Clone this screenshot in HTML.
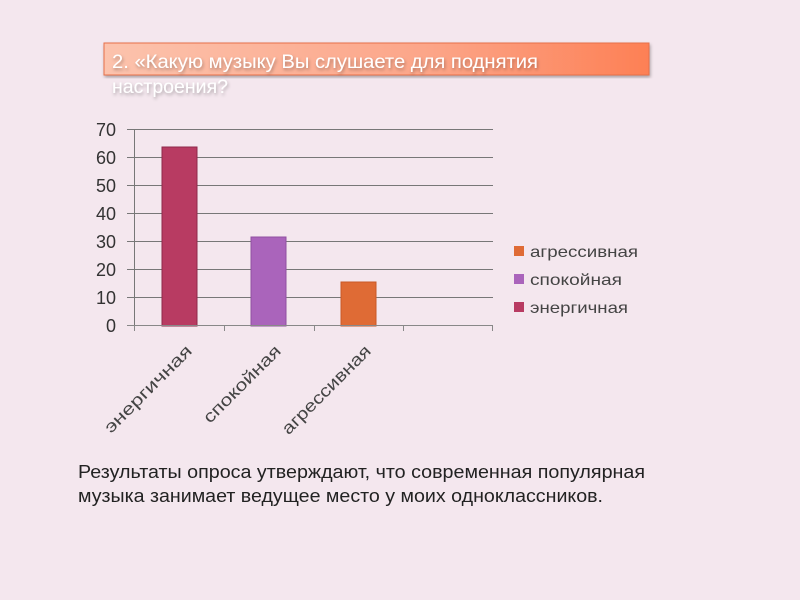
<!DOCTYPE html>
<html><head><meta charset="utf-8"><style>body{margin:0;background:#f4e7ee}svg{display:block}</style></head>
<body>
<svg width="800" height="600" xmlns="http://www.w3.org/2000/svg" font-family="Liberation Sans, sans-serif">
<defs><linearGradient id="g" x1="0" x2="1"><stop offset="0" stop-color="#fcc3ad"/><stop offset="0.6" stop-color="#fca588"/><stop offset="1" stop-color="#fd8055"/></linearGradient>
<filter id="s"><feDropShadow dx="1" dy="2" stdDeviation="1.5" flood-color="#000" flood-opacity="0.3"/></filter></defs>
<rect width="800" height="600" fill="#f4e7ee"/>
<rect x="104" y="43" width="545" height="32" fill="url(#g)" stroke="#e8704a" stroke-width="1" filter="url(#s)"/>
<g fill="#fff" font-size="19" filter="url(#s)">
<text x="112" y="68" textLength="426" lengthAdjust="spacingAndGlyphs">2. «Какую музыку Вы слушаете для поднятия</text>
<text x="112" y="93" textLength="116" lengthAdjust="spacingAndGlyphs">настроения?</text>
</g>
<g stroke="#777" stroke-width="1">
<line x1="127" y1="129.5" x2="493" y2="129.5"/>
<line x1="127" y1="157.5" x2="493" y2="157.5"/>
<line x1="127" y1="185.5" x2="493" y2="185.5"/>
<line x1="127" y1="213.5" x2="493" y2="213.5"/>
<line x1="127" y1="241.5" x2="493" y2="241.5"/>
<line x1="127" y1="269.5" x2="493" y2="269.5"/>
<line x1="127" y1="297.5" x2="493" y2="297.5"/>
<line x1="134.5" y1="129" x2="134.5" y2="326"/>
</g>
<rect x="162" y="147" width="35" height="179" fill="#b83b62" stroke="#8e2a4a"/>
<rect x="251" y="237" width="35" height="89" fill="#aa64bb" stroke="#9050a0"/>
<rect x="341" y="282" width="35" height="44" fill="#df6b35" stroke="#c85a28"/>
<g stroke="#888" stroke-width="1">
<line x1="127" y1="325.5" x2="493" y2="325.5"/>
<line x1="134.5" y1="326" x2="134.5" y2="331"/><line x1="224.5" y1="326" x2="224.5" y2="331"/>
<line x1="314.5" y1="326" x2="314.5" y2="331"/><line x1="403.5" y1="326" x2="403.5" y2="331"/>
<line x1="492.5" y1="326" x2="492.5" y2="331"/>
</g>
<g font-size="18" fill="#333" text-anchor="end">
<text x="116" y="136">70</text><text x="116" y="164">60</text><text x="116" y="192">50</text>
<text x="116" y="220">40</text><text x="116" y="248">30</text><text x="116" y="276">20</text>
<text x="116" y="304">10</text><text x="116" y="332">0</text>
</g>
<g font-size="17" fill="#444" text-anchor="end">
<text transform="translate(193,352) rotate(-45)" textLength="116" lengthAdjust="spacingAndGlyphs">энергичная</text>
<text transform="translate(282,352) rotate(-45)" textLength="102" lengthAdjust="spacingAndGlyphs">спокойная</text>
<text transform="translate(372,352) rotate(-45)" textLength="118" lengthAdjust="spacingAndGlyphs">агрессивная</text>
</g>
<rect x="514" y="246" width="10" height="10" fill="#df6b35"/>
<rect x="514" y="274" width="10" height="10" fill="#aa64bb"/>
<rect x="514" y="302" width="10" height="10" fill="#b83b62"/>
<g font-size="16" fill="#444">
<text x="530" y="257" textLength="108" lengthAdjust="spacingAndGlyphs">агрессивная</text>
<text x="530" y="285" textLength="92" lengthAdjust="spacingAndGlyphs">спокойная</text>
<text x="530" y="313" textLength="98" lengthAdjust="spacingAndGlyphs">энергичная</text>
</g>
<g font-size="18" fill="#222">
<text x="78" y="478" textLength="567" lengthAdjust="spacingAndGlyphs">Результаты опроса утверждают, что современная популярная</text>
<text x="78" y="502" textLength="525" lengthAdjust="spacingAndGlyphs">музыка занимает ведущее место у моих одноклассников.</text>
</g>
</svg>
</body></html>
